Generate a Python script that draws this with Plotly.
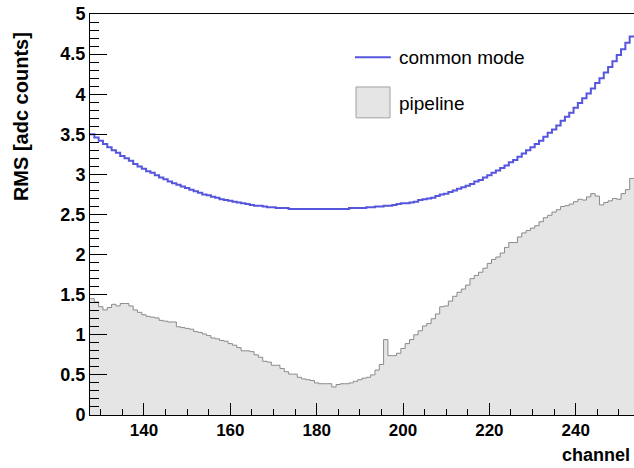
import plotly.graph_objects as go

# channel numbers (bin centres) shown in the picture
channels = list(range(128, 254))

# RMS of the common mode noise per channel
common_mode = [
    3.50, 3.46, 3.42, 3.38, 3.34, 3.30, 3.27, 3.23, 3.20, 3.17,
    3.13, 3.10, 3.07, 3.04, 3.02, 2.99, 2.96, 2.94, 2.91, 2.89,
    2.87, 2.85, 2.83, 2.81, 2.79, 2.77, 2.75, 2.74, 2.72, 2.71,
    2.69, 2.68, 2.67, 2.66, 2.65, 2.64, 2.63, 2.62, 2.61, 2.61,
    2.60, 2.59, 2.59, 2.58, 2.58, 2.58, 2.57, 2.57, 2.57, 2.57,
    2.57, 2.57, 2.57, 2.57, 2.57, 2.57, 2.57, 2.57, 2.57, 2.57,
    2.58, 2.58, 2.58, 2.58, 2.59, 2.59, 2.60, 2.60, 2.61, 2.61,
    2.62, 2.63, 2.64, 2.64, 2.65, 2.66, 2.68, 2.69, 2.70, 2.71,
    2.73, 2.75, 2.76, 2.78, 2.80, 2.82, 2.84, 2.86, 2.88, 2.91,
    2.93, 2.96, 2.99, 3.02, 3.05, 3.08, 3.11, 3.15, 3.18, 3.22,
    3.26, 3.30, 3.34, 3.38, 3.42, 3.47, 3.52, 3.56, 3.61, 3.67,
    3.72, 3.77, 3.83, 3.89, 3.95, 4.01, 4.07, 4.14, 4.20, 4.27,
    4.34, 4.41, 4.49, 4.56, 4.64, 4.72,
]

# RMS of the pipeline noise per channel
pipeline = [
    1.45, 1.41, 1.35, 1.31, 1.34, 1.38, 1.36, 1.39, 1.39, 1.36,
    1.31, 1.28, 1.25, 1.23, 1.22, 1.21, 1.18, 1.17, 1.16, 1.16,
    1.10, 1.09, 1.08, 1.07, 1.04, 1.03, 1.01, 0.99, 0.96, 0.95,
    0.93, 0.92, 0.89, 0.87, 0.84, 0.80, 0.80, 0.79, 0.75, 0.72,
    0.67, 0.66, 0.62, 0.62, 0.58, 0.54, 0.51, 0.51, 0.47, 0.45,
    0.44, 0.43, 0.40, 0.39, 0.39, 0.39, 0.35, 0.38, 0.39, 0.39,
    0.40, 0.42, 0.44, 0.46, 0.47, 0.50, 0.56, 0.63, 0.94, 0.74,
    0.74, 0.77, 0.83, 0.89, 0.94, 1.00, 1.05, 1.11, 1.14, 1.20,
    1.26, 1.35, 1.36, 1.42, 1.48, 1.53, 1.57, 1.62, 1.70, 1.74,
    1.78, 1.83, 1.89, 1.94, 1.97, 2.02, 2.09, 2.15, 2.15, 2.22,
    2.27, 2.30, 2.33, 2.36, 2.41, 2.46, 2.49, 2.53, 2.56, 2.60,
    2.61, 2.63, 2.66, 2.69, 2.68, 2.72, 2.76, 2.73, 2.62, 2.65,
    2.67, 2.70, 2.69, 2.76, 2.81, 2.95,
]

FONT = "Liberation Sans"

# histogram style: steps drawn from bin edges
edges = [c - 0.5 for c in channels] + [channels[-1] + 0.5]

fig = go.Figure()
fig.add_trace(go.Scatter(
    x=edges, y=pipeline + [pipeline[-1]],
    mode="lines", line_shape="hv",
    line=dict(color="#8a8a8a", width=1),
    fill="tozeroy", fillcolor="#e5e5e5",
    name="pipeline", hoverinfo="skip",
))
fig.add_trace(go.Scatter(
    x=edges, y=common_mode + [common_mode[-1]],
    mode="lines", line_shape="hv",
    line=dict(color="#5555dd", width=2),
    name="common mode", hoverinfo="skip",
))

# legend drawn by hand to sit where the original one is
fig.add_shape(type="line", xref="paper", yref="paper",
              x0=0.487, x1=0.553, y0=0.892, y1=0.892,
              line=dict(color="#5555dd", width=2))
fig.add_shape(type="rect", xref="paper", yref="paper",
              x0=0.489, x1=0.5515, y0=0.741, y1=0.818,
              line=dict(color="#a0a0a0", width=1), fillcolor="#e5e5e5")
fig.add_annotation(text="common mode", xref="paper", yref="paper",
                   x=0.5643, y=0.892, xanchor="left", yanchor="middle",
                   showarrow=False, font=dict(family=FONT, size=19, color="black"))
fig.add_annotation(text="pipeline", xref="paper", yref="paper",
                   x=0.5643, y=0.778, xanchor="left", yanchor="middle",
                   showarrow=False, font=dict(family=FONT, size=19, color="black"))

# axis titles (ROOT puts them at the far end of the axis)
fig.add_annotation(text="RMS [adc counts]", xref="paper", yref="paper",
                   x=-0.1268, y=0.743, textangle=-90,
                   xanchor="center", yanchor="middle", showarrow=False,
                   font=dict(family=FONT, size=20, color="black", weight="bold"))
fig.add_annotation(text="channel", xref="paper", yref="paper",
                   x=0.9963, y=-0.0998, xanchor="right", yanchor="middle",
                   showarrow=False,
                   font=dict(family=FONT, size=18, color="black", weight="bold"))

fig.update_xaxes(
    range=[127.5, 253.5], showgrid=False, zeroline=False,
    showline=True, linecolor="black", linewidth=1, mirror=True,
    ticks="inside", ticklen=12, tickcolor="black",
    tick0=0, dtick=20,
    minor=dict(ticks="inside", ticklen=6, dtick=5, tickcolor="black"),
    tickfont=dict(family=FONT, size=17, color="black", weight="bold"),
)
fig.update_yaxes(
    range=[0, 5], showgrid=False, zeroline=False,
    showline=True, linecolor="black", linewidth=1,
    ticks="inside", ticklen=17, tickcolor="black",
    tick0=0, dtick=0.5, ticklabeloverflow="allow",
    minor=dict(ticks="inside", ticklen=9, dtick=0.1, tickcolor="black"),
    tickfont=dict(family=FONT, size=18, color="black", weight="bold"),
)

fig.update_layout(
    width=634, height=468,
    margin=dict(l=90, r=0, t=14, b=53),
    plot_bgcolor="white", paper_bgcolor="white",
    showlegend=False,
)

# drop the default 8px page margin so the figure fills the window
fig.write_html("out.html", config={"displayModeBar": False},
               post_script="document.body.style.margin='0px';")
